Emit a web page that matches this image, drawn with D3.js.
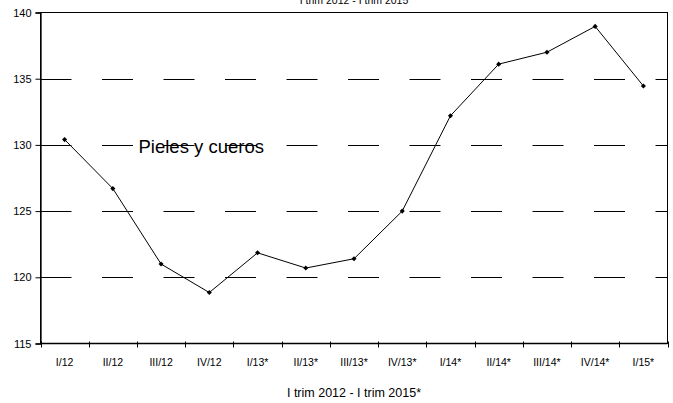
<!DOCTYPE html>
<html>
<head>
<meta charset="utf-8">
<script src="https://cdn.jsdelivr.net/npm/d3@7"></script>
<style>
  html, body { margin: 0; padding: 0; background: #fff; }
  svg { display: block; font-family: "Liberation Sans", Arial, sans-serif; }
</style>
</head>
<body>
<svg id="chart" width="673" height="403"></svg>
<script>
const categories = ["I/12","II/12","III/12","IV/12","I/13*","II/13*","III/13*","IV/13*","I/14*","II/14*","III/14*","IV/14*","I/15*"];
const values = [130.4, 126.7, 121.0, 118.85, 121.85, 120.7, 121.4, 125.0, 132.2, 136.1, 137.0, 138.95, 134.45];
const yTicks = [115, 120, 125, 130, 135, 140];
const titleText = "I trim 2012 - I trim 2015";
const xAxisTitle = "I trim 2012 - I trim 2015*";
const seriesLabel = "Pieles y cueros";

(function () {
const svg = d3.select("#chart");
const pL = 40.5, pR = 667.5, pT = 12.5, pB = 343.5;

const x = d3.scaleBand().domain(categories).range([pL, pR]).padding(0);
const y = d3.scaleLinear().domain([115, 140]).range([pB, pT]);

// Title (cut off at top, as in the reference)
svg.append("text").attr("x", (pL + pR) / 2).attr("y", 4)
  .attr("text-anchor", "middle").attr("font-size", 10.5).text(titleText);

// Gridlines (dashed)
svg.append("g").selectAll("line").data(yTicks.filter(d => d > 115 && d < 140)).join("line")
  .attr("x1", pL).attr("x2", pR)
  .attr("y1", d => Math.round(y(d)) + 0.5).attr("y2", d => Math.round(y(d)) + 0.5)
  .attr("stroke", "#000").attr("stroke-width", 1)
  .attr("stroke-dasharray", "31,30.5");

// Plot border
svg.append("rect").attr("x", pL).attr("y", pT).attr("width", pR - pL).attr("height", pB - pT)
  .attr("fill", "none").attr("stroke", "#000").attr("stroke-width", 1);

// Y axis
const yAxis = d3.axisLeft(y).tickValues(yTicks).tickSize(5).tickPadding(4).tickFormat(d3.format("d"));
const gy = svg.append("g").attr("transform", `translate(${pL},0)`).call(yAxis);
gy.select(".domain").attr("stroke-width", 1.3);
gy.selectAll("text").attr("font-size", 11).attr("font-family", "Liberation Sans, Arial, sans-serif").attr("fill", "#000");

// X axis: tick marks between categories
const boundaries = categories.map(c => x(c)).concat([pR]);
svg.append("line").attr("x1", pL).attr("x2", pR).attr("y1", pB).attr("y2", pB)
  .attr("stroke", "#000").attr("stroke-width", 1.3);
svg.append("g").selectAll("line").data(boundaries).join("line")
  .attr("x1", d => Math.round(d) + 0.5).attr("x2", d => Math.round(d) + 0.5)
  .attr("y1", pB - 2).attr("y2", pB + 4)
  .attr("stroke", "#000").attr("stroke-width", 1);
svg.append("g").selectAll("text").data(categories).join("text")
  .attr("x", d => x(d) + x.bandwidth() / 2).attr("y", 366)
  .attr("text-anchor", "middle").attr("font-size", 10.5).text(d => d);

// X axis title
svg.append("text").attr("x", (pL + pR) / 2).attr("y", 397)
  .attr("text-anchor", "middle").attr("font-size", 12.5).text(xAxisTitle);

// Line
const cx = (d, i) => x(categories[i]) + x.bandwidth() / 2;
svg.append("path").datum(values)
  .attr("d", d3.line().x((d, i) => cx(d, i)).y(d => y(d)))
  .attr("fill", "none").attr("stroke", "#000").attr("stroke-width", 1);

// Markers (small diamonds)
svg.append("g").selectAll("path").data(values).join("path")
  .attr("transform", (d, i) => `translate(${cx(d, i)},${y(d)}) rotate(45)`)
  .attr("d", d3.symbol().type(d3.symbolSquare).size(13))
  .attr("fill", "#000");

// Series label
svg.append("text").attr("x", 138.5).attr("y", 153)
  .attr("font-size", 18.5).text(seriesLabel);
})();
</script>
</body>
</html>
